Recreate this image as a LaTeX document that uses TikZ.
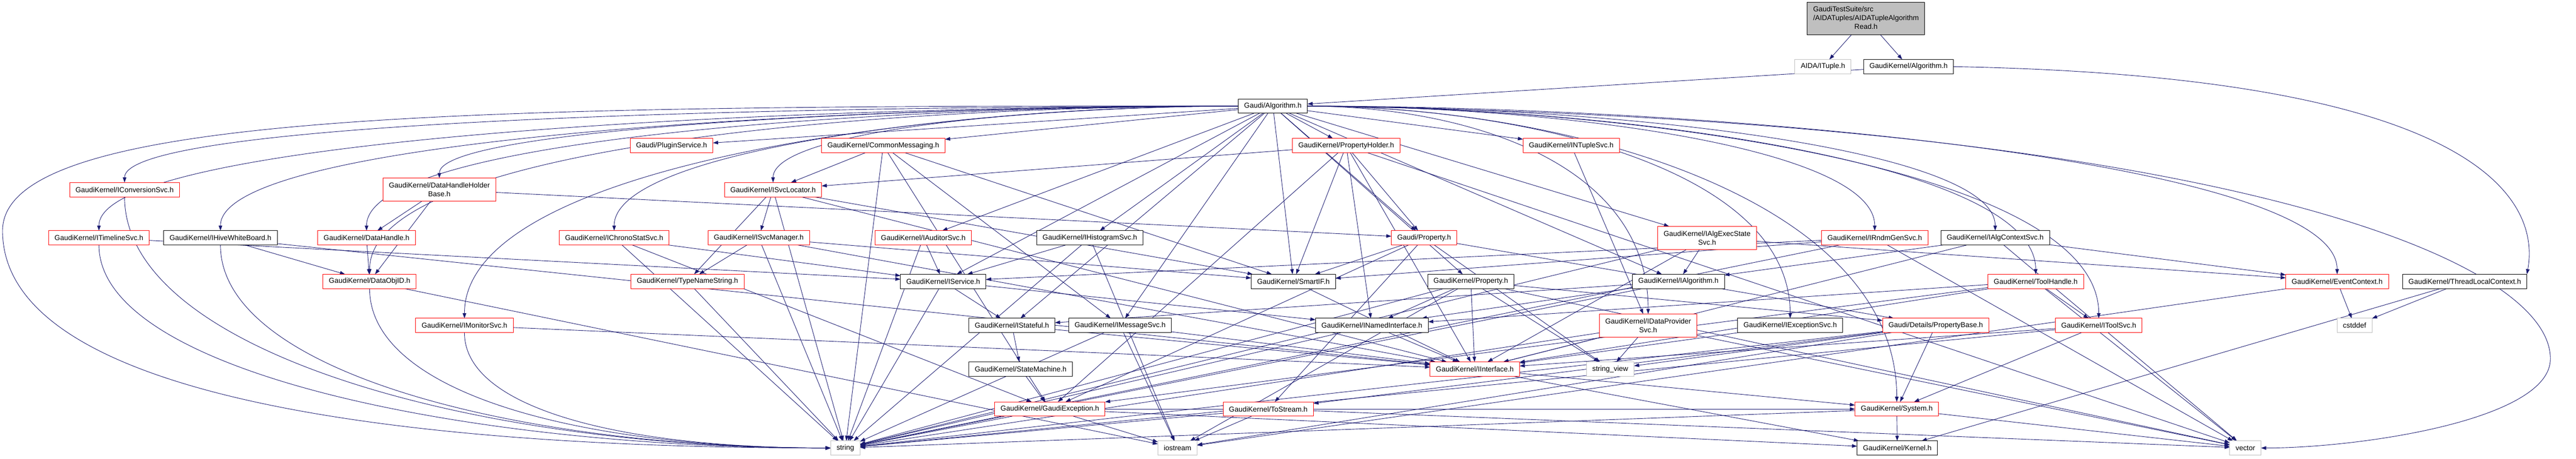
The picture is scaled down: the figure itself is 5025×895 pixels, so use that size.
\documentclass[tikz,border=0pt]{standalone}
\usepackage{fontspec}
\setmainfont{Liberation Sans}
\usetikzlibrary{arrows.meta}
\definecolor{edgeblue}{RGB}{25,25,112}
\definecolor{grey75}{RGB}{191,191,191}
\pgfdeclarelayer{bg}
\pgfsetlayers{bg,main}

\begin{document}
\begin{tikzpicture}[x=1pt, y=-1pt,
  every node/.style={font=\fontsize{14}{17}\selectfont, inner xsep=11.5pt, inner ysep=2pt, minimum height=28pt, fill=white, line width=1pt, outer sep=0pt},
  redbox/.style={draw=red},
  blkbox/.style={draw=black},
  sysbox/.style={draw=grey75},
  topbox/.style={draw=black, fill=grey75},
  inc/.style={draw=edgeblue, line width=0.9pt, -{Triangle[length=10pt,width=7pt]}}]
\useasboundingbox (0,0) rectangle (5025,895);

\node[topbox, minimum height=63pt] (top) at (3640,36) {\begin{tabular}{@{}l@{}}GaudiTestSuite/src\\/AIDATuples/AIDATupleAlgorithm\\\multicolumn{1}{@{}c@{}}{Read.h}\end{tabular}};

\node[sysbox] (ituple) at (3556,130) {AIDA/ITuple.h};
\node[blkbox] (gkalgo) at (3723,130) {GaudiKernel/Algorithm.h};

\node[blkbox] (galgo) at (2483,207) {Gaudi/Algorithm.h};

\node[redbox] (plugin) at (1310,284) {Gaudi/PluginService.h};
\node[redbox] (commsg) at (1723,284) {GaudiKernel/CommonMessaging.h};
\node[redbox] (propholder) at (2626,284) {GaudiKernel/PropertyHolder.h};
\node[redbox] (ntuplesvc) at (3065,284) {GaudiKernel/INTupleSvc.h};

\node[redbox] (convsvc) at (243,370) {GaudiKernel/IConversionSvc.h};
\node[redbox, align=center, minimum height=45pt] (dhholder) at (857,370) {GaudiKernel/DataHandleHolder\\Base.h};
\node[redbox] (svcloc) at (1508,370) {GaudiKernel/ISvcLocator.h};

\node[redbox] (timeline) at (193,464) {GaudiKernel/ITimelineSvc.h};
\node[blkbox] (hivewb) at (430,464) {GaudiKernel/IHiveWhiteBoard.h};
\node[redbox] (dhandle) at (715,464) {GaudiKernel/DataHandle.h};
\node[redbox] (chrono) at (1198,464) {GaudiKernel/IChronoStatSvc.h};
\node[redbox] (svcmgr) at (1480,464) {GaudiKernel/ISvcManager.h};
\node[redbox] (auditor) at (1801,464) {GaudiKernel/IAuditorSvc.h};
\node[blkbox] (histo) at (2126,464) {GaudiKernel/IHistogramSvc.h};
\node[redbox] (gprop) at (2778,464) {Gaudi/Property.h};
\node[redbox, align=center, minimum height=45pt] (execstate) at (3330,464) {GaudiKernel/IAlgExecState\\Svc.h};
\node[redbox] (rndm) at (3657,464) {GaudiKernel/IRndmGenSvc.h};
\node[blkbox] (algctx) at (3892,464) {GaudiKernel/IAlgContextSvc.h};

\node[redbox] (objid) at (721,549) {GaudiKernel/DataObjID.h};
\node[redbox] (typename) at (1341,549) {GaudiKernel/TypeNameString.h};
\node[blkbox] (iservice) at (1840,549) {GaudiKernel/IService.h};
\node[blkbox] (smartif) at (2523,549) {GaudiKernel/SmartIF.h};
\node[blkbox] (gkprop) at (2869,549) {GaudiKernel/Property.h};
\node[blkbox] (ialgo) at (3274,549) {GaudiKernel/IAlgorithm.h};
\node[redbox] (toolhandle) at (3971,549) {GaudiKernel/ToolHandle.h};
\node[redbox] (evtctx) at (4559,549) {GaudiKernel/EventContext.h};
\node[blkbox] (tlctx) at (4808,549) {GaudiKernel/ThreadLocalContext.h};

\node[redbox] (monitor) at (906,635) {GaudiKernel/IMonitorSvc.h};
\node[blkbox] (istateful) at (1974,635) {GaudiKernel/IStateful.h};
\node[blkbox] (msgsvc) at (2185,635) {GaudiKernel/IMessageSvc.h};
\node[blkbox] (namedif) at (2676,635) {GaudiKernel/INamedInterface.h};
\node[redbox, align=center, minimum height=45pt] (dataprov) at (3215,635) {GaudiKernel/IDataProvider\\Svc.h};
\node[blkbox] (excsvc) at (3492,635) {GaudiKernel/IExceptionSvc.h};
\node[redbox] (propbase) at (3776,635) {Gaudi/Details/PropertyBase.h};
\node[redbox] (toolsvc) at (4094,635) {GaudiKernel/IToolSvc.h};
\node[sysbox] (cstddef) at (4593,635) {cstddef};

\node[blkbox] (statemach) at (1991,720) {GaudiKernel/StateMachine.h};
\node[redbox] (iiface) at (2877,720) {GaudiKernel/IInterface.h};
\node[sysbox] (strview) at (3141,720) {string\_view};

\node[redbox] (gexc) at (2048,798) {GaudiKernel/GaudiException.h};
\node[redbox] (tostream) at (2474,798) {GaudiKernel/ToStream.h};
\node[redbox] (system) at (3700,798) {GaudiKernel/System.h};

\node[sysbox] (string) at (1649,874) {string};
\node[sysbox] (iostream) at (2297,874) {iostream};
\node[blkbox] (kernel) at (3701,874) {GaudiKernel/Kernel.h};
\node[sysbox] (vector) at (4380,874) {vector};

\begin{pgfonlayer}{bg}
\draw[inc] (top) -- (ituple);
\draw[inc] (top) -- (gkalgo);
\draw[inc] (gkalgo) -- (galgo);
\draw[inc] (gkalgo.east) .. controls (4900,150) and (4950,420) .. (tlctx.north east);

\draw[inc] (galgo) -- (plugin);
\draw[inc] (galgo) -- (commsg);
\draw[inc] (galgo) -- (propholder);
\draw[inc] (galgo) -- (ntuplesvc);
\draw[inc] (galgo) -- (auditor);
\draw[inc] (galgo) -- (histo);
\draw[inc] (galgo) -- (gprop);
\draw[inc] (galgo) -- (execstate);
\draw[inc] (galgo) -- (iservice);
\draw[inc] (galgo) -- (smartif);
\draw[inc] (galgo) -- (gkprop);
\draw[inc] (galgo) -- (ialgo);
\draw[inc] (galgo) -- (istateful);
\draw[inc] (galgo) -- (msgsvc);
% to the left
\draw[inc] (galgo.west) .. controls +(-900,0) and +(0,-120) .. (convsvc.north);
\draw[inc] (galgo.west) .. controls +(-900,0) and +(0,-180) .. (timeline.north);
\draw[inc] (galgo.west) .. controls +(-800,0) and +(0,-180) .. (hivewb.north);
\draw[inc] (galgo.west) .. controls +(-700,0) and +(0,-180) .. (dhandle.north);
\draw[inc] (galgo.west) .. controls +(-600,0) and +(0,-100) .. (dhholder.north);
\draw[inc] (galgo.west) .. controls +(-700,0) and +(0,-250) .. (objid.north);
\draw[inc] (galgo.west) .. controls +(-600,0) and +(0,-300) .. (monitor.north);
\draw[inc] (galgo.west) .. controls +(-500,0) and +(0,-160) .. (chrono.north);
\draw[inc] (galgo.west) .. controls +(-400,0) and +(0,-100) .. (svcloc.north);
% to the right
\draw[inc] (galgo.east) .. controls +(500,0) and +(0,-160) .. (rndm.north);
\draw[inc] (galgo.east) .. controls +(600,0) and +(0,-160) .. (algctx.north);
\draw[inc] (galgo.east) .. controls +(600,0) and +(0,-220) .. (toolhandle.north);
\draw[inc] (galgo.east) .. controls +(800,0) and +(0,-220) .. (evtctx.north);
\draw[inc] (galgo.east) .. controls +(600,0) and +(0,-300) .. (toolsvc.north);
\draw[inc] (galgo.east) .. controls +(400,0) and +(0,-300) .. (excsvc.north);
\draw[inc] (galgo.east) .. controls +(500,0) and +(0,-400) .. (system.north);
\draw[inc] (galgo.east) .. controls +(300,0) and +(0,-300) .. (dataprov.north);
\draw[inc] (galgo.west) .. controls (900,205) and (5,220) .. (5,450) .. controls (5,800) and (900,874) .. (string.west);
\draw[inc] (galgo.east) .. controls (4300,230) and (4975,500) .. (4975,700) .. controls (4975,820) and (4600,874) .. (vector.east);

\draw[inc] (commsg) -- (svcloc);
\draw[inc] (commsg) -- (msgsvc);
\draw[inc] (commsg) -- (smartif);
\draw[inc] (commsg) -- (gexc);
\draw[inc] (commsg) -- (string);

\draw[inc] (propholder) -- (svcloc);
\draw[inc] (propholder) -- (gprop);
\draw[inc] (propholder) -- (smartif);
\draw[inc] (propholder) -- (namedif);
\draw[inc] (propholder) -- (iiface);
\draw[inc] (propholder) -- (gexc);
\draw[inc] (propholder) -- (vector);

\draw[inc] (ntuplesvc) -- (dataprov);

\draw[inc] (convsvc.south) .. controls +(0,300) and +(-700,0) .. (string.west);

\draw[inc] (dhholder) -- (dhandle);
\draw[inc] (dhholder) -- (objid);
\draw[inc] (dhholder) -- (gprop);

\draw[inc] (svcloc) -- (typename);
\draw[inc] (svcloc) -- (svcmgr);
\draw[inc] (svcloc) -- (string);
\draw[inc] (svcloc) -- (smartif);
\draw[inc] (svcloc) -- (iiface);

\draw[inc] (timeline.south) .. controls +(0,250) and +(-700,0) .. (string.west);
\draw[inc] (timeline) -- (iservice);
\draw[inc] (hivewb) -- (objid);
\draw[inc] (hivewb.south) .. controls +(0,250) and +(-600,0) .. (string.west);
\draw[inc] (hivewb) -- (iiface);
\draw[inc] (dhandle) -- (objid);
\draw[inc] (chrono) -- (iservice);
\draw[inc] (chrono) -- (string);
\draw[inc] (chrono) -- (gexc);
\draw[inc] (svcmgr) -- (typename);
\draw[inc] (svcmgr) -- (string);
\draw[inc] (svcmgr) -- (smartif);
\draw[inc] (svcmgr) -- (iiface);
\draw[inc] (auditor) -- (iservice);
\draw[inc] (auditor) -- (string);
\draw[inc] (histo) -- (iservice);
\draw[inc] (histo) -- (string);
\draw[inc] (histo) -- (iostream);

\draw[inc] (gprop) -- (smartif);
\draw[inc] (gprop) -- (propbase);
\draw[inc] (gprop) -- (strview);
\draw[inc] (gprop) -- (gexc);
\draw[inc] (gprop) -- (tostream);
\draw[inc] (execstate) -- (ialgo);
\draw[inc] (execstate) -- (evtctx);
\draw[inc] (execstate) -- (iiface);
\draw[inc] (execstate) -- (string);
\draw[inc] (rndm) -- (iservice);
\draw[inc] (rndm) -- (smartif);
\draw[inc] (rndm) -- (string);
\draw[inc] (rndm) -- (vector);
\draw[inc] (algctx) -- (evtctx);
\draw[inc] (algctx) -- (iiface);
\draw[inc] (algctx) -- (vector);
\draw[inc] (algctx) -- (ialgo);

\draw[inc] (objid.south) .. controls +(0,200) and +(-500,0) .. (string.west);
\draw[inc] (objid) -- (iostream);
\draw[inc] (typename) -- (string);
\draw[inc] (iservice) -- (namedif);
\draw[inc] (iservice) -- (istateful);
\draw[inc] (iservice) -- (string);
\draw[inc] (smartif) -- (iiface);
\draw[inc] (gkprop) -- (namedif);
\draw[inc] (gkprop) -- (iiface);
\draw[inc] (gkprop) -- (strview);
\draw[inc] (gkprop) -- (string);
\draw[inc] (gkprop) -- (iostream);
\draw[inc] (gkprop) -- (propbase);
\draw[inc] (gkprop) -- (vector);
\draw[inc] (ialgo) -- (namedif);
\draw[inc] (ialgo) -- (istateful);
\draw[inc] (ialgo) -- (string);
\draw[inc] (toolhandle) -- (toolsvc);
\draw[inc] (toolhandle) -- (vector);
\draw[inc] (toolhandle) -- (namedif);
\draw[inc] (toolhandle) -- (gexc);
\draw[inc] (toolhandle) -- (iiface);
\draw[inc] (evtctx) -- (cstddef);
\draw[inc] (evtctx) -- (iostream);
\draw[inc] (tlctx) -- (cstddef);
\draw[inc] (tlctx) -- (kernel);

\draw[inc] (monitor) -- (iiface);
\draw[inc] (monitor.south) .. controls +(0,150) and +(-400,0) .. (string.west);
\draw[inc] (istateful) -- (statemach);
\draw[inc] (istateful) -- (iiface);
\draw[inc] (msgsvc) -- (iiface);
\draw[inc] (msgsvc) -- (string);
\draw[inc] (msgsvc) -- (iostream);
\draw[inc] (namedif) -- (iiface);
\draw[inc] (namedif) -- (string);
\draw[inc] (dataprov) -- (iiface);
\draw[inc] (dataprov) -- (strview);
\draw[inc] (dataprov) -- (string);
\draw[inc] (dataprov) -- (vector);
\draw[inc] (excsvc) -- (iiface);
\draw[inc] (propbase) -- (system);
\draw[inc] (propbase) -- (strview);
\draw[inc] (propbase) -- (tostream);
\draw[inc] (propbase) -- (string);
\draw[inc] (propbase) -- (iostream);
\draw[inc] (toolsvc) -- (iiface);
\draw[inc] (toolsvc) -- (system);
\draw[inc] (toolsvc) -- (string);

\draw[inc] (statemach) -- (gexc);
\draw[inc] (iiface) -- (system);
\draw[inc] (iiface) -- (kernel);
\draw[inc] (gexc) -- (string);
\draw[inc] (gexc) -- (iostream);
\draw[inc] (gexc) -- (system);
\draw[inc] (gexc) -- (kernel);
\draw[inc] (tostream) -- (iostream);
\draw[inc] (tostream) -- (string);
\draw[inc] (tostream) -- (vector);
\draw[inc] (system) -- (kernel);
\draw[inc] (system) -- (vector);
\draw[inc] (system) -- (string);
\end{pgfonlayer}
\end{tikzpicture}
\end{document}
